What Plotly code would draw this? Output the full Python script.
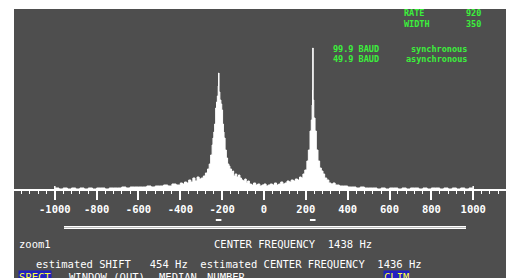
import plotly.graph_objects as go

# ---- data (frequency offset in Hz, spectral amplitude in arbitrary units) ----
freq = [-1000, -980, -960, -940, -920, -900, -880, -860, -840, -820, -800, -780, -760, -740, -720,
        -700, -680, -660, -640, -620, -600, -580, -560, -540, -520, -500, -480, -460, -440, -420,
        -400, -390, -380, -370, -360, -350, -340, -330, -320, -310, -300, -290, -280, -270, -262,
        -255, -248, -244, -240, -236, -231, -227, -223, -219, -217, -215, -211, -206, -202, -198,
        -194, -191, -186, -180, -174, -168, -163, -155, -150, -145, -138, -130, -122, -115, -108,
        -100, -92, -85, -78, -70, -60, -50, -40, -30, -20, -10, 0, 10, 20, 30, 40, 50, 60, 70, 80,
        90, 100, 110, 120, 130, 140, 150, 160, 170, 178, 186, 195, 205, 212, 220, 226, 230, 232,
        233, 235, 238, 244, 250, 258, 266, 274, 282, 290, 300, 310, 320, 330, 340, 350, 360, 380,
        400, 420, 440, 460, 480, 500, 520, 540, 560, 580, 600, 620, 640, 660, 680, 700, 720, 740,
        760, 780, 800, 820, 840, 860, 880, 900, 920, 940, 960, 980, 1000]
amp = [2, 1, 2, 1, 2, 1, 2, 1, 2, 1, 2, 2, 1, 2, 2,
       2, 3, 2, 3, 3, 3, 3, 4, 3, 4, 4, 5, 4, 6, 5,
       7, 6, 8, 7, 10, 8, 12, 9, 13, 11, 12, 14, 17, 21, 26,
       35, 45, 52, 58, 66, 82, 88, 94, 104, 117, 98, 90, 86, 80, 66,
       58, 52, 40, 32, 26, 24, 21, 17, 19, 14, 16, 13, 15, 12, 10,
       9, 11, 7, 9, 6, 5, 7, 5, 6, 4, 5, 6, 4, 5, 6, 5, 7, 5, 6, 8,
       6, 7, 9, 8, 10, 9, 11, 10, 13, 12, 16, 20, 29, 40, 59, 70, 85, 100,
       142, 90, 72, 59, 40, 29, 22, 19, 16, 12, 10, 7, 6, 7, 5, 5, 4, 4,
       3, 3, 2, 3, 2, 2, 2, 1, 2, 1, 2, 2, 1, 2, 1, 2, 2, 1,
       2, 1, 2, 2, 1, 2, 1, 2, 1, 2, 1, 2, 2]

tick_vals = [-1000, -800, -600, -400, -200, 0, 200, 400, 600, 800, 1000]
tick_text = ["-1000", "-800", "-600", "-400", "-200", "0", "200", "400", "600", "800", "1000"]
peak_freqs = [-217, 233]

# screen geometry (page body has an 8px margin)
BODY = 8
W, H = 514, 278
ML, MT = 14, 9
PX0, PXS = 264.0, 0.2092   # screen pixel of 0 Hz, pixels per Hz
PY0 = 190.0                # screen pixel of zero amplitude


def fx(px):
    return (px - PX0) / PXS


def hy(py):
    return PY0 - py


BG = "#4e4e4e"
GREEN = "#3cf03c"
MONO = "DejaVu Sans Mono"

fig = go.Figure()
fig.add_trace(go.Scatter(x=freq, y=amp, mode="lines", line=dict(color="white", width=1, shape="hv"),
                         fill="tozeroy", fillcolor="white", hoverinfo="skip"))
fig.add_trace(go.Scatter(x=peak_freqs, y=[hy(220)] * 2, mode="markers",
                         marker=dict(symbol="line-ew", size=4, line=dict(color="white", width=2)),
                         hoverinfo="skip"))

shapes = [
    dict(type="line", xref="x", yref="y", x0=fx(64), x1=fx(466), y0=hy(227.5), y1=hy(227.5),
         line=dict(color="white", width=3)),
    dict(type="line", xref="x", yref="y", x0=fx(64), x1=fx(466), y0=hy(227.5), y1=hy(227.5),
         line=dict(color="#bbbbbb", width=1)),
    dict(type="line", xref="x", yref="y", x0=-1000, x1=-1000, y0=0, y1=4, line=dict(color="white", width=1.5)),
    dict(type="line", xref="x", yref="y", x0=1000, x1=1000, y0=0, y1=4, line=dict(color="white", width=1.5)),
]


def txt(s, px, py, color="white", size=10.5, bg=None, anchor="left"):
    return dict(text=s, x=fx(px), y=hy(py), xref="x", yref="y", xanchor=anchor, yanchor="middle",
                showarrow=False, font=dict(family=MONO, size=size, color=color),
                bgcolor=bg, borderpad=0)


ann = [
    txt("zoom1", 18, 244),
    txt("CENTER FREQUENCY  1438 Hz", 213, 244),
    txt("estimated SHIFT   454 Hz  estimated CENTER FREQUENCY  1436 Hz", 35, 264),
    txt("SPECT", 18, 277, color="#ffff40", bg="#2020c0"),
    txt("WINDOW (OUT)", 68, 277),
    txt("MEDIAN", 158, 277),
    txt("NUMBER", 206, 277),
    txt("CLIM", 383, 277, color="#ffff40", bg="#2020c0"),
    txt("<b>RATE</b>", 403, 13, color=GREEN, size=8.5),
    txt("<b>920</b>", 465, 13, color=GREEN, size=8.5),
    txt("<b>WIDTH</b>", 403, 24, color=GREEN, size=8.5),
    txt("<b>350</b>", 465, 24, color=GREEN, size=8.5),
    txt("<b>99.9 BAUD</b>", 332, 49, color=GREEN, size=8.5),
    txt("<b>synchronous</b>", 410, 49, color=GREEN, size=8.5),
    txt("<b>49.9 BAUD</b>", 332, 59, color=GREEN, size=8.5),
    txt("<b>asynchronous</b>", 405, 59, color=GREEN, size=8.5),
]

fig.update_layout(
    width=W - BODY, height=H - BODY, margin=dict(l=ML - BODY, r=0, t=MT - BODY, b=0),
    paper_bgcolor="white", plot_bgcolor=BG, showlegend=False,
    shapes=shapes, annotations=ann,
    xaxis=dict(range=[fx(ML), fx(W)], anchor="free", position=(H - PY0) / (H - MT),
               showgrid=False, zeroline=False, showline=True, linecolor="white", linewidth=2,
               tickmode="array", tickvals=tick_vals,
               ticktext=["<b>" + t + "</b>" for t in tick_text],
               ticks="outside", ticklen=9, tickwidth=1.5, tickcolor="white",
               tickfont=dict(family=MONO, size=10.5, color="white"),
               minor=dict(dtick=40, tick0=-1000, ticks="outside", ticklen=3, tickcolor="white", tickwidth=1),
               fixedrange=True),
    yaxis=dict(range=[hy(H), hy(MT)], visible=False, fixedrange=True),
)

fig.write_html("out.html", config={"displayModeBar": False})
